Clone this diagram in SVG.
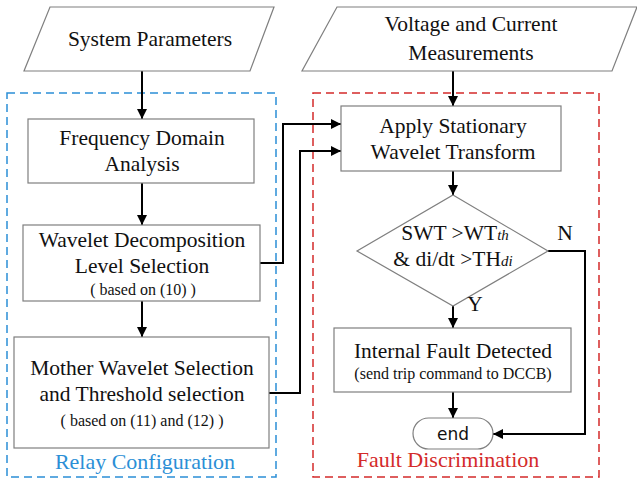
<svg xmlns="http://www.w3.org/2000/svg" width="637" height="478" viewBox="0 0 637 478">
  <defs>
    <marker id="arrow" viewBox="0 0 10 10" refX="10" refY="5" markerWidth="10" markerHeight="10" markerUnits="userSpaceOnUse" orient="auto">
      <path d="M0,0 L10,5 L0,10 z" fill="#000"/>
    </marker>
    <style>
      .serif { font-family: "Times New Roman", "Liberation Serif", Tinos, "DejaVu Serif", serif; }
      .box { fill: #fff; stroke: #7f7f7f; stroke-width: 1.2; }
      .t { font-size: 21.5px; fill: #111; text-anchor: middle; }
      .s { font-size: 16px; fill: #111; text-anchor: middle; }
      .sub { font-style: italic; font-size: 15px; }
      .conn { fill: none; stroke: #000; stroke-width: 2; }
      .arr { marker-end: url(#arrow); }
    </style>
  </defs>
  <rect width="637" height="478" fill="#fff"/>

  <!-- group frames -->
  <g id="relay-configuration">
    <rect x="7" y="93" width="269" height="384" fill="none" stroke="#2b8fd6" stroke-width="1.5" stroke-dasharray="8,5"/>
    <text class="serif" x="145" y="469" font-size="22" fill="#2b8fd6" text-anchor="middle">Relay Configuration</text>
  </g>
  <g id="fault-discrimination">
    <rect x="313" y="93" width="286" height="384" fill="none" stroke="#d42a2a" stroke-width="1.5" stroke-dasharray="8,5"/>
    <text class="serif" x="448" y="467" font-size="22" fill="#d42a2a" text-anchor="middle">Fault Discrimination</text>
  </g>

  <!-- connectors -->
  <g id="connectors">
    <line class="conn arr" x1="142" y1="71" x2="142" y2="119"/>
    <line class="conn arr" x1="142" y1="183" x2="142" y2="225"/>
    <line class="conn arr" x1="142" y1="301" x2="142" y2="337"/>
    <polyline class="conn arr" points="260,263 283,263 283,124 341,124"/>
    <polyline class="conn arr" points="269,393 300,393 300,151 341,151"/>
    <line class="conn arr" x1="453" y1="71" x2="453" y2="106"/>
    <line class="conn arr" x1="453" y1="171" x2="453" y2="195"/>
    <line class="conn arr" x1="453" y1="306" x2="453" y2="328"/>
    <line class="conn arr" x1="453" y1="392" x2="453" y2="418"/>
    <polyline class="conn arr" points="548,251 585,251 585,434 493,434"/>
  </g>

  <!-- nodes -->
  <g id="system-parameters" class="serif">
    <polygon class="box" points="50,7 274,7 250,71 24,71" stroke="#555"/>
    <text class="t" x="150" y="46">System Parameters</text>
  </g>
  <g id="measurements" class="serif">
    <polygon class="box" points="337,7 637,7 612,71 302,71" stroke="#555"/>
    <text class="t" x="471" y="31">Voltage and Current</text>
    <text class="t" x="471" y="60">Measurements</text>
  </g>
  <g id="frequency-domain" class="serif">
    <rect class="box" x="28" y="119" width="226" height="64"/>
    <text class="t" x="142" y="145">Frequency Domain</text>
    <text class="t" x="142" y="171">Analysis</text>
  </g>
  <g id="decomposition-level" class="serif">
    <rect class="box" x="23" y="225" width="237" height="76"/>
    <text class="t" x="142" y="247">Wavelet Decomposition</text>
    <text class="t" x="142" y="273">Level Selection</text>
    <text class="s" x="143" y="295">( based on (10) )</text>
  </g>
  <g id="mother-wavelet" class="serif">
    <rect class="box" x="14" y="337" width="255" height="111"/>
    <text class="t" x="142" y="375">Mother Wavelet Selection</text>
    <text class="t" x="142" y="401">and Threshold selection</text>
    <text class="s" x="142" y="426">( based on (11) and (12) )</text>
  </g>
  <g id="apply-swt" class="serif">
    <rect class="box" x="341" y="106" width="220" height="65"/>
    <text class="t" x="453" y="133">Apply Stationary</text>
    <text class="t" x="453" y="159">Wavelet Transform</text>
  </g>
  <g id="decision" class="serif">
    <polygon class="box" points="453,195 548,251 453,306 357,251"/>
    <text class="t" x="455" y="240">SWT &gt;WT<tspan class="sub">th</tspan></text>
    <text class="t" x="453" y="266">&amp; di/dt &gt;TH<tspan class="sub">di</tspan></text>
    <text class="t" x="565" y="240">N</text>
    <text class="t" x="475" y="311">Y</text>
  </g>
  <g id="fault-detected" class="serif">
    <rect class="box" x="334" y="328" width="237" height="64"/>
    <text class="t" x="453" y="358">Internal Fault Detected</text>
    <text class="s" x="453" y="379">(send trip command to DCCB)</text>
  </g>
  <g id="end">
    <rect class="box" x="413" y="418" width="80" height="31" rx="15.5" ry="15.5"/>
    <text x="453" y="440" font-family="DejaVu Sans, sans-serif" font-size="17" fill="#111" text-anchor="middle">end</text>
  </g>
</svg>
